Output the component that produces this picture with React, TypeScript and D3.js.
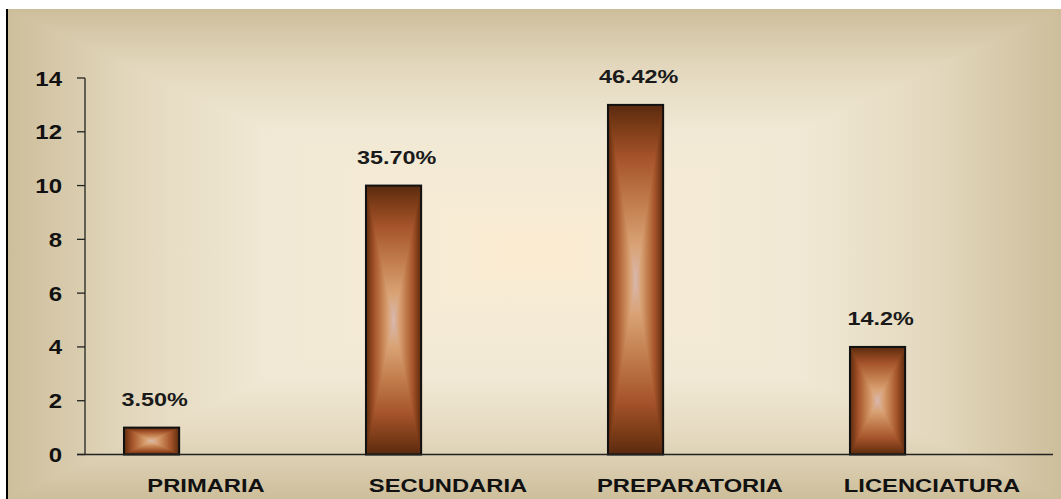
import React from 'react';
import * as d3 from 'd3';

const categories = ['PRIMARIA', 'SECUNDARIA', 'PREPARATORIA', 'LICENCIATURA'];
const values = [1, 10, 13, 4];
const valueLabels = ['3.50%', '35.70%', '46.42%', '14.2%'];
const yTicks = [0, 2, 4, 6, 8, 10, 12, 14];

const W = 1061;
const H = 499;
const FONT = '"Liberation Sans", Arial, sans-serif';

const BAR_STOPS: [number, string][] = [
  [0, '#5a2a0f'], [0.12, '#7a3b17'], [0.3, '#a5532a'], [0.55, '#c07b4b'], [0.8, '#d9a274'], [1, '#d8b8ae'],
];
const BG_STOPS: [number, string][] = [
  [0, '#cdbe9b'], [0.25, '#e4d9bf'], [0.5, '#f1e9d5'], [0.8, '#f6ebd5'], [1, '#fcecd1'],
];

function mirror(stops: [number, string][]) {
  const a = stops.map(([o, c]) => [o / 2, c] as [number, string]);
  const b = stops.slice(0, -1).reverse().map(([o, c]) => [1 - o / 2, c] as [number, string]);
  return [...a, ...b];
}

function Grad({ id, stops, x1, y1, x2, y2 }: any) {
  return (
    <linearGradient id={id} x1={x1} y1={y1} x2={x2} y2={y2}>
      {stops.map(([o, c]: [number, string], i: number) => (
        <stop key={i} offset={o} stopColor={c} />
      ))}
    </linearGradient>
  );
}

function RectGrad({ x0, y0, x1, y1, prefix }: any) {
  const cx = (x0 + x1) / 2;
  const cy = (y0 + y1) / 2;
  return (
    <g>
      <rect x={x0} y={y0} width={x1 - x0} height={y1 - y0} fill={`url(#${prefix}H)`} />
      <path d={`M${x0},${y0}L${x1},${y0}L${cx},${cy}Z`} fill={`url(#${prefix}T)`} />
      <path d={`M${x0},${y1}L${x1},${y1}L${cx},${cy}Z`} fill={`url(#${prefix}B)`} />
    </g>
  );
}

export default function App() {
  const x = d3.scaleBand<string>().domain(categories).range([85, 1053]).padding(0);
  const y = d3.scaleLinear().domain([0, 14]).range([454.5, 78]);
  const bw = x.bandwidth();

  return (
    <svg width={W} height={H} style={{ position: 'absolute', left: 0, top: 0 }}>
      <defs>
        <Grad id="bgH" stops={mirror(BG_STOPS)} x1="0" y1="0" x2="1" y2="0" />
        <Grad id="bgT" stops={BG_STOPS} x1="0" y1="0" x2="0" y2="1" />
        <Grad id="bgB" stops={BG_STOPS} x1="0" y1="1" x2="0" y2="0" />
        <Grad id="barH" stops={mirror(BAR_STOPS)} x1="0" y1="0" x2="1" y2="0" />
        <Grad id="barT" stops={BAR_STOPS} x1="0" y1="0" x2="0" y2="1" />
        <Grad id="barB" stops={BAR_STOPS} x1="0" y1="1" x2="0" y2="0" />
      </defs>
      <rect x={0} y={0} width={W} height={H} fill="#ffffff" />
      <RectGrad x0={7} y0={9} x1={W} y1={H} prefix="bg" />
      <line x1={7} y1={9} x2={7} y2={H} stroke="#000" strokeWidth={2} />

      {/* y axis */}
      <line x1={85} y1={y(14)} x2={85} y2={y(0)} stroke="#222" strokeWidth={1.3} />
      {yTicks.map((t) => (
        <g key={t}>
          <line x1={77} x2={85} y1={y(t)} y2={y(t)} stroke="#222" strokeWidth={1.3} />
          <text
            transform={`translate(62,${y(t) + 7.5}) scale(1.2,1)`}
            textAnchor="end"
            fontFamily={FONT}
            fontWeight="bold"
            fontSize={20}
            fill="#111"
          >
            {t}
          </text>
        </g>
      ))}

      {/* bars */}
      {categories.map((c, i) => {
        const bx = (x(c) as number) + bw * 0.161;
        const bwid = bw * 0.228;
        const top = y(values[i]);
        const bot = y(0);
        return (
          <g key={c}>
            <RectGrad x0={bx} y0={top} x1={bx + bwid} y1={bot} prefix="bar" />
            <rect x={bx} y={top} width={bwid} height={bot - top} fill="none" stroke="#111" strokeWidth={2} />
            <text
              transform={`translate(${bx + bwid / 2 + 3},${top - 22}) scale(1.3,1)`}
              textAnchor="middle"
              fontFamily={FONT}
              fontWeight="bold"
              fontSize={18}
              fill="#1a1a1a"
            >
              {valueLabels[i]}
            </text>
          </g>
        );
      })}

      {/* x axis */}
      <line x1={77} x2={1053} y1={y(0)} y2={y(0)} stroke="#222" strokeWidth={1.3} />
      {categories.map((c) => (
        <text
          key={c}
          transform={`translate(${(x(c) as number) + bw / 2},492) scale(1.25,1)`}
          textAnchor="middle"
          fontFamily={FONT}
          fontWeight="bold"
          fontSize={19}
          fill="#111"
        >
          {c}
        </text>
      ))}
    </svg>
  );
}
